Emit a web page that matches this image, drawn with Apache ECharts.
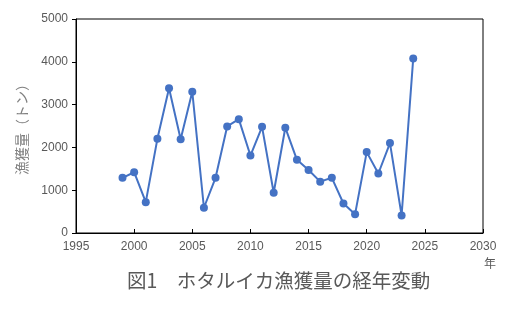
<!DOCTYPE html>
<html><head><meta charset="utf-8">
<script src="https://cdn.jsdelivr.net/npm/echarts@6/dist/echarts.min.js"></script>
<style>html,body{margin:0;padding:0;background:#fff}#c{width:515px;height:309px}</style>
</head><body><div id="c"></div>
<script>
const years = [1999,2000,2001,2002,2003,2004,2005,2006,2007,2008,2009,2010,2011,2012,2013,2014,2015,2016,2017,2018,2019,2020,2021,2022,2023,2024];
const catch_t = [1290,1420,720,2200,3380,2190,3300,590,1290,2490,2660,1810,2480,940,2460,1710,1470,1200,1290,690,440,1890,1390,2100,410,4080];
const titleText = '図1　ホタルイカ漁獲量の経年変動';
const yName = '漁獲量（トン）';
const xUnit = '年';

const chart = echarts.init(document.getElementById('c'), null, {renderer:'canvas'});
chart.setOption({
  animation:false,
  title:{text:titleText, left:122, top:266, textStyle:{fontFamily:'Noto Sans CJK JP', fontSize:19.5, fontWeight:'normal', color:'#595959'}},
  grid:{left:76, right:32, top:19, bottom:76, show:true, borderColor:'#000', borderWidth:1},
  xAxis:{type:'value', min:1995, max:2030, interval:5,
    axisLine:{show:true, lineStyle:{color:'#000', width:1}},
    axisTick:{show:true, inside:true, length:4, lineStyle:{color:'#000'}},
    axisLabel:{margin:8, color:'#595959', fontSize:12, fontFamily:'Liberation Sans', formatter:v=>String(v)},
    splitLine:{show:false}},
  yAxis:{type:'value', min:0, max:5000, interval:1000,
    name:yName, nameLocation:'middle', nameGap:47, nameRotate:90,
    nameTextStyle:{color:'#7f7f7f', fontSize:14, fontFamily:'Noto Sans CJK JP'},
    axisLine:{show:true, lineStyle:{color:'#000', width:1}},
    axisTick:{show:true, inside:false, length:4, lineStyle:{color:'#000'}},
    axisLabel:{margin:8, color:'#595959', fontSize:12, fontFamily:'Liberation Sans', formatter:v=>String(v)},
    splitLine:{show:false}},
  graphic:[{type:'text', left:484, top:257, style:{text:xUnit, fill:'#595959', font:'12px "Noto Sans CJK JP"'}}],
  series:[{type:'line', data:years.map((y,i)=>[y,catch_t[i]]), symbol:'circle', symbolSize:8,
    itemStyle:{color:'#4472C4'}, lineStyle:{color:'#4472C4', width:2}}]
});
</script></body></html>
